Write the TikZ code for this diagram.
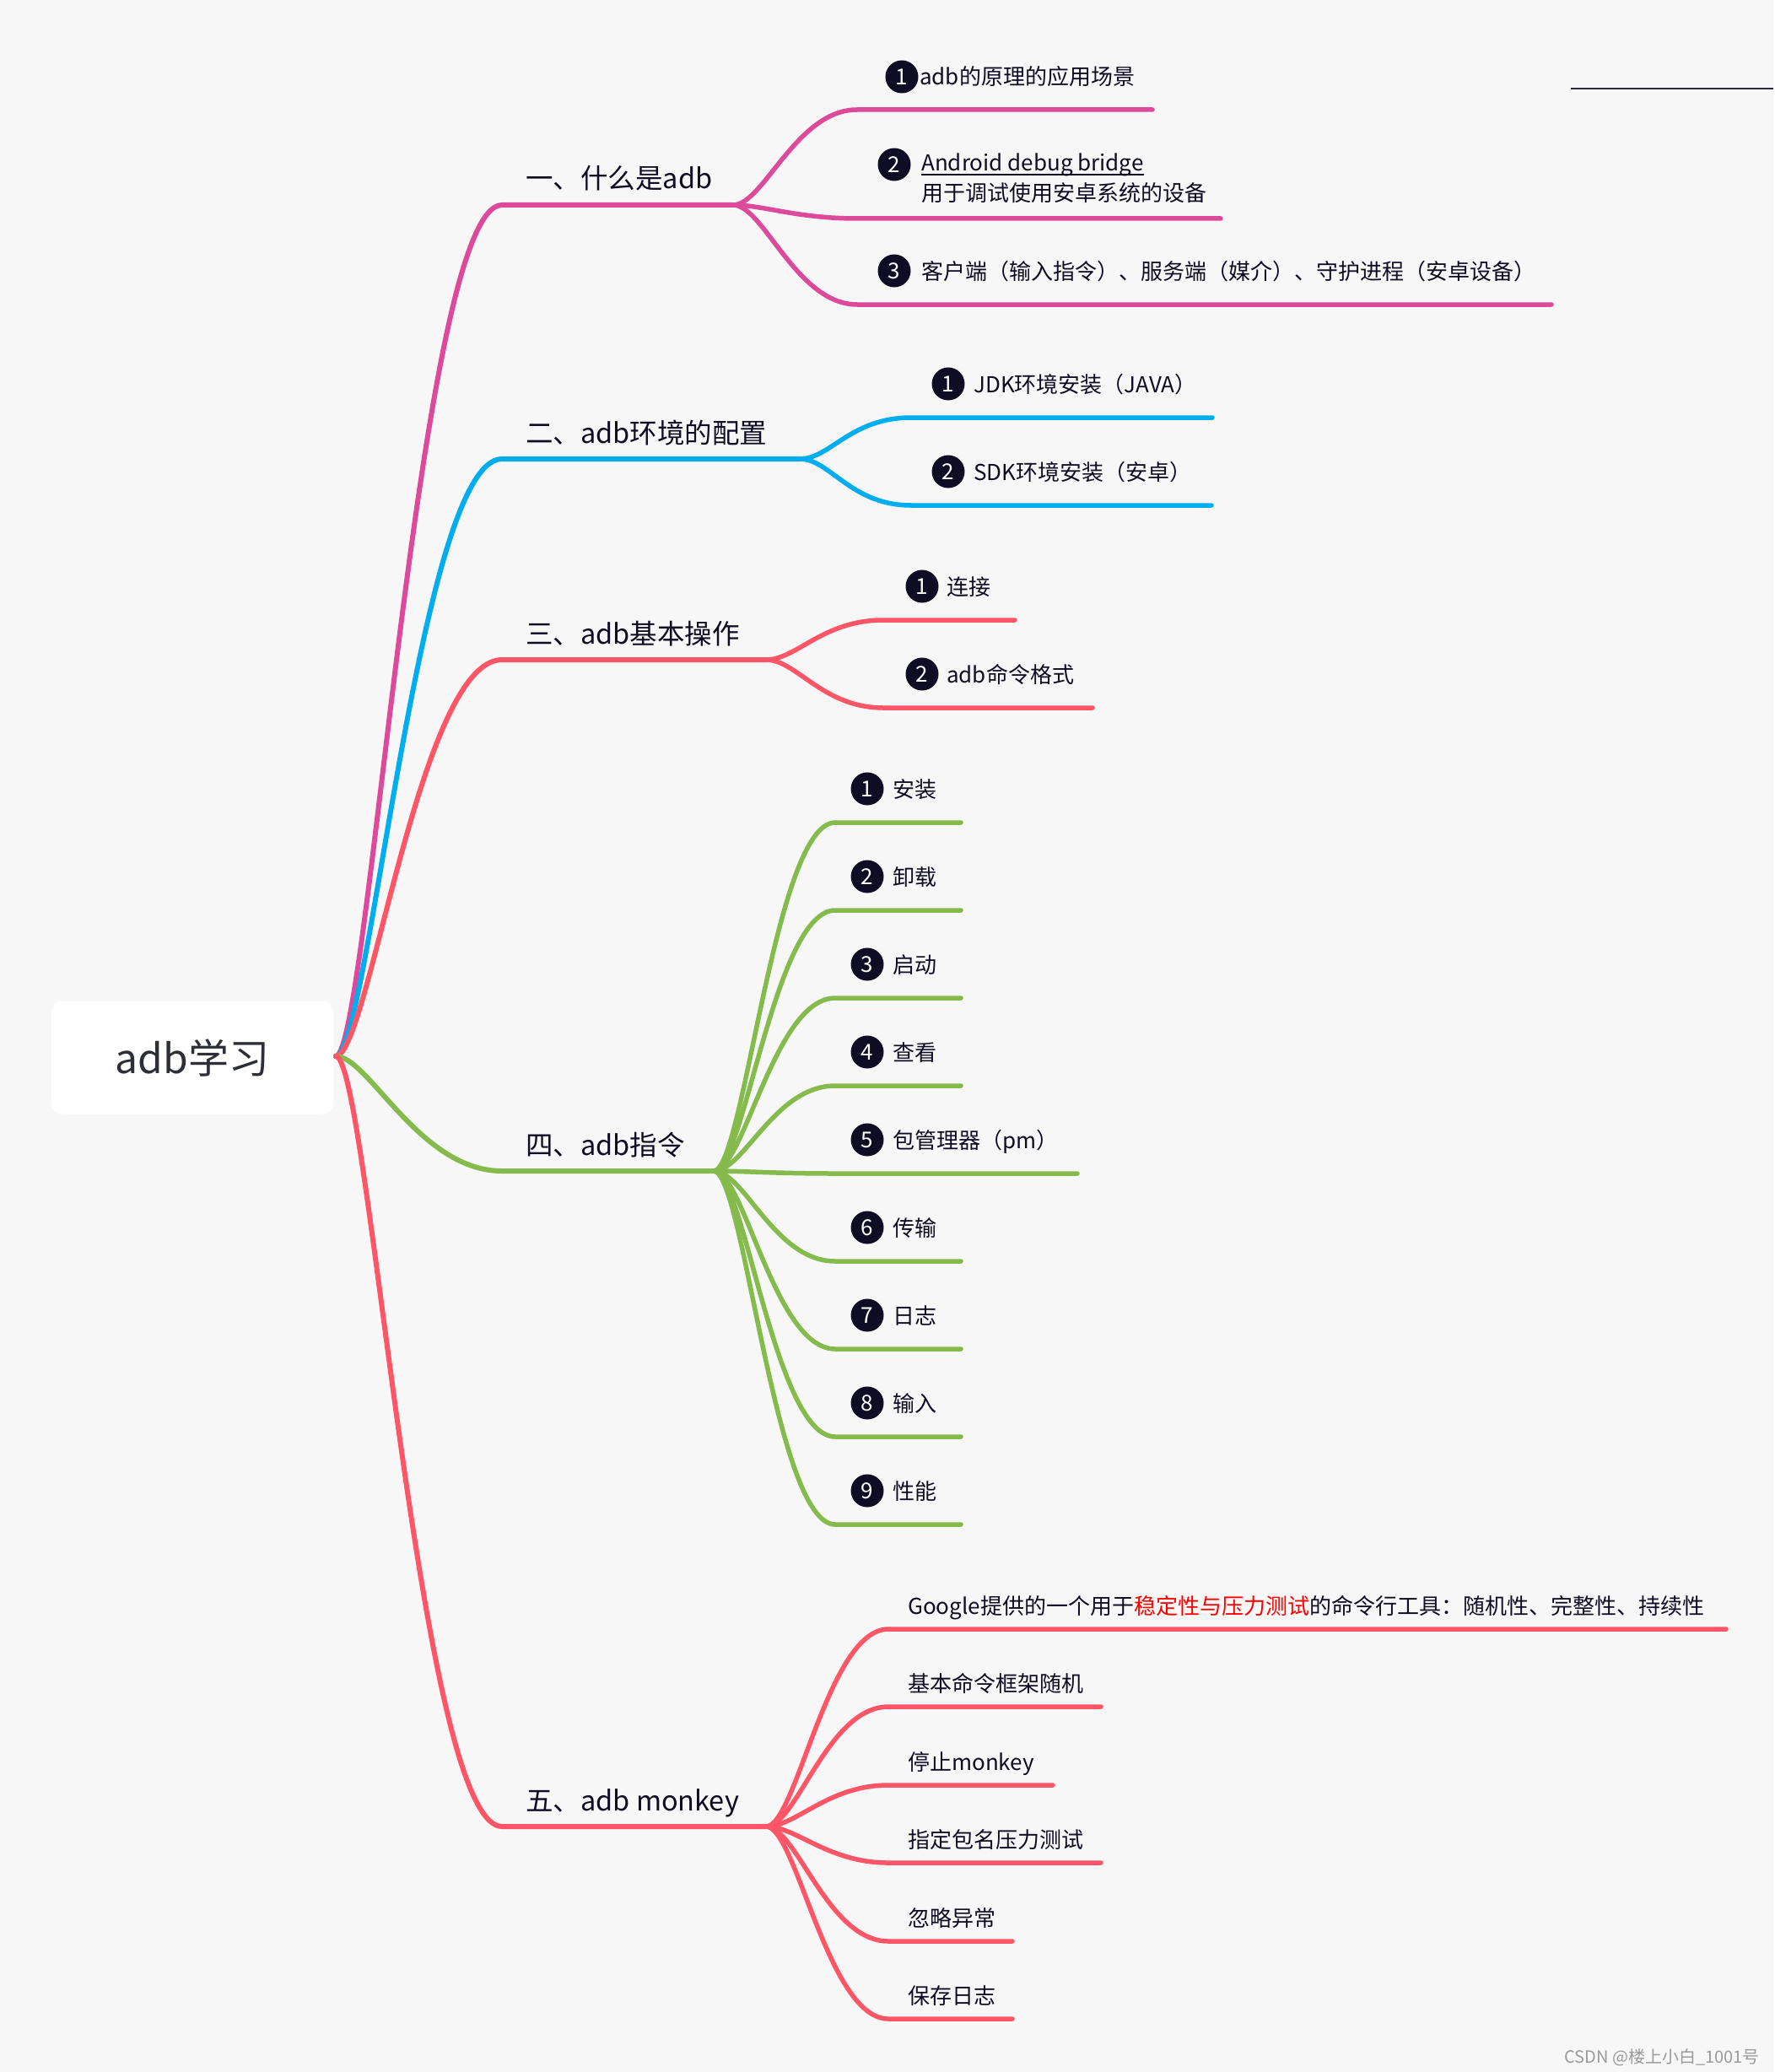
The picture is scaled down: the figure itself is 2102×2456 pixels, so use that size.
\documentclass[tikz,border=0pt]{standalone}
\usepackage{fontspec}
\setmainfont{Noto Sans CJK SC}
\usetikzlibrary{calc}
\definecolor{bgc}{HTML}{F7F7F7}
\definecolor{mag}{HTML}{DD4A9B}
\definecolor{sky}{HTML}{00AEEF}
\definecolor{coral}{HTML}{FF5667}
\definecolor{leaf}{HTML}{84BB4C}
\definecolor{ink}{HTML}{0F0D24}
\definecolor{rootink}{HTML}{2C2F36}
\definecolor{hot}{HTML}{FF0000}
\definecolor{wmark}{HTML}{9A9A9A}
\definecolor{rule}{HTML}{2B2A40}
\newcommand\fRoot{\fontsize{48}{58}\selectfont}
\newcommand\fMain{\fontsize{32.5}{40}\selectfont}
\newcommand\fSub{\fontsize{26}{32}\selectfont}
\newcommand\fNum{\fontsize{26}{30}\selectfont}
\newcommand\fMark{\fontsize{20}{24}\selectfont}
\tikzset{
  mainln/.style={line width=6pt, line cap=round},
  subln/.style={line width=5.5pt, line cap=round},
  mainc/.style={out=0, in=180, out distance=39pt, in distance=98pt},
  subc/.style={out=0, in=180, out distance=36pt, in distance=72pt},
  maintxt/.style={font=\fMain, text=ink, inner sep=0pt, anchor=base west},
  subtxt/.style={font=\fSub, text=ink, inner sep=0pt, anchor=base west},
  num/.style={circle, fill=ink, text=white, minimum size=39pt, inner sep=0pt, font=\fNum},
  rootbox/.style={fill=white, rounded corners=13pt, minimum width=334pt, minimum height=134pt, font=\fRoot, text=rootink, inner sep=0pt},
}
\begin{document}
\begin{tikzpicture}[x=1pt, y=-1pt]
\fill[bgc] (0,0) rectangle (2102,2456);

% root
\node[rootbox] (root) at (228,1253.5) {adb学习};
\coordinate (R) at (398,1252);

% top-right rule
\coordinate (tl1) at (1862,105);
\coordinate (tl2) at (2102,105);
\draw[rule, line width=2.5pt] (tl1) -- (tl2);

% ---------- branch 1 ----------
\coordinate (B1) at (595,243); \coordinate (B1e) at (869,243);
\draw[mainln, mag] (R) to[mainc] (B1) -- (B1e);
\node[maintxt] (l1) at (623,224) {一、什么是adb};
\coordinate (S11) at (1016,130); \coordinate (S11e) at (1366,130);
\coordinate (S12) at (1016,259); \coordinate (S12e) at (1447,259);
\coordinate (S13) at (1016,361); \coordinate (S13e) at (1839,361);
\draw[subln, mag] (B1e) to[subc] (S11) -- (S11e);
\draw[subln, mag] (B1e) to[subc] (S12) -- (S12e);
\draw[subln, mag] (B1e) to[subc] (S13) -- (S13e);
\node[num] (n11) at (1069,91) {1};
\node[subtxt] (t11) at (1090,101) {adb的原理的应用场景};
\node[num] (n12) at (1060,195) {2};
\node[subtxt] (t12a) at (1092,203) {Android debug bridge};
\draw[ink, line width=2pt] ([yshift=-4.5pt]t12a.base west) -- ([yshift=-4.5pt]t12a.base east);
\node[subtxt] (t12b) at (1092,239) {用于调试使用安卓系统的设备};
\node[num] (n13) at (1060,321) {3};
\node[subtxt] (t13) at (1092,331) {客户端（输入指令）、服务端（媒介）、守护进程（安卓设备）};

% ---------- branch 2 ----------
\coordinate (B2) at (595,544); \coordinate (B2e) at (948,544);
\draw[mainln, sky] (R) to[mainc] (B2) -- (B2e);
\node[maintxt] (l2) at (623,525) {二、adb环境的配置};
\coordinate (S21) at (1080,495); \coordinate (S21e) at (1437,495);
\coordinate (S22) at (1080,599); \coordinate (S22e) at (1436,599);
\draw[subln, sky] (B2e) to[subc] (S21) -- (S21e);
\draw[subln, sky] (B2e) to[subc] (S22) -- (S22e);
\node[num] (n21) at (1124,455) {1};
\node[subtxt] (t21) at (1154,465) {JDK环境安装（JAVA）};
\node[num] (n22) at (1124,559) {2};
\node[subtxt] (t22) at (1154,569) {SDK环境安装（安卓）};

% ---------- branch 3 ----------
\coordinate (B3) at (595,782); \coordinate (B3e) at (908,782);
\draw[mainln, coral] (R) to[mainc] (B3) -- (B3e);
\node[maintxt] (l3) at (623,763) {三、adb基本操作};
\coordinate (S31) at (1047,735); \coordinate (S31e) at (1203,735);
\coordinate (S32) at (1047,839); \coordinate (S32e) at (1295,839);
\draw[subln, coral] (B3e) to[subc] (S31) -- (S31e);
\draw[subln, coral] (B3e) to[subc] (S32) -- (S32e);
\node[num] (n31) at (1093,695) {1};
\node[subtxt] (t31) at (1122,705) {连接};
\node[num] (n32) at (1093,799) {2};
\node[subtxt] (t32) at (1122,809) {adb命令格式};

% ---------- branch 4 ----------
\coordinate (B4) at (595,1388); \coordinate (B4e) at (846,1388);
\draw[mainln, leaf] (R) to[mainc] (B4) -- (B4e);
\node[maintxt] (l4) at (623,1369) {四、adb指令};
\foreach \i/\y/\e/\t in {1/975/1139/安装, 2/1079/1139/卸载, 3/1183/1139/启动, 4/1287/1139/查看, 5/1391/1277/包管理器（pm）, 6/1495/1139/传输, 7/1599/1139/日志, 8/1703/1139/输入, 9/1807/1139/性能}{
  \coordinate (S4\i) at (990,\y); \coordinate (S4\i e) at (\e,\y);
  \draw[subln, leaf] (B4e) to[subc] (S4\i) -- (S4\i e);
  \node[num] (n4\i) at (1028,\y-40) {\i};
  \node[subtxt] (t4\i) at (1058,\y-30) {\t};
}

% ---------- branch 5 ----------
\coordinate (B5) at (595,2165); \coordinate (B5e) at (908,2165);
\draw[mainln, coral] (R) to[mainc] (B5) -- (B5e);
\node[maintxt] (l5) at (623,2146) {五、adb monkey};
\foreach \i/\y/\e in {1/1931/2046, 2/2023/1305, 3/2116/1248, 4/2208/1305, 5/2301/1200, 6/2393/1200}{
  \coordinate (S5\i) at (1053,\y); \coordinate (S5\i e) at (\e,\y);
  \draw[subln, coral] (B5e) to[subc] (S5\i) -- (S5\i e);
}
\node[subtxt] (t51) at (1076,1913) {Google提供的一个用于\textcolor{hot}{稳定性与压力测试}的命令行工具：随机性、完整性、持续性};
\node[subtxt] (t52) at (1076,2005) {基本命令框架随机};
\node[subtxt] (t53) at (1076,2098) {停止monkey};
\node[subtxt] (t54) at (1076,2190) {指定包名压力测试};
\node[subtxt] (t55) at (1076,2283) {忽略异常};
\node[subtxt] (t56) at (1076,2375) {保存日志};

% watermark
\node[font=\fMark, text=wmark, inner sep=0pt, anchor=base east] (wm) at (2086,2445) {CSDN @楼上小白\_1001号};
\end{tikzpicture}
\end{document}
